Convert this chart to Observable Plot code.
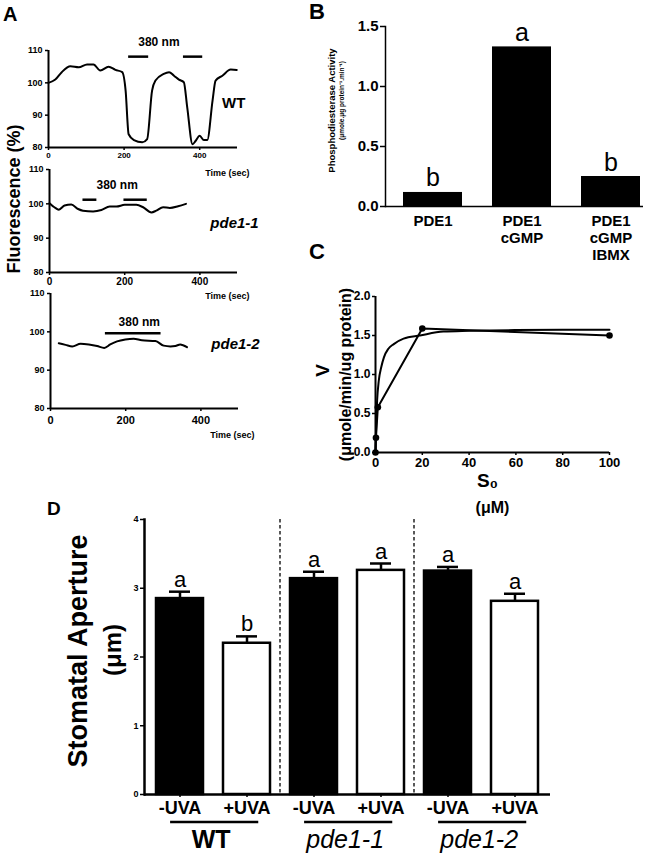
<!DOCTYPE html>
<html>
<head>
<meta charset="utf-8">
<script src="https://cdn.jsdelivr.net/npm/d3@7"></script>
<script src="https://cdn.jsdelivr.net/npm/@observablehq/plot@0.6"></script>
<style>
  html, body { margin: 0; padding: 0; background: #fff; }
  #root { position: relative; width: 660px; height: 863px; overflow: hidden; background: #fff;
          font-family: "Liberation Sans", Arial, Helvetica, sans-serif; color: #000; }
  .panel { position: absolute; }
  .letter { position: absolute; font-weight: bold; line-height: 1; }
</style>
</head>
<body>
<div id="root"></div>
<script>
// ---------------- DATA ----------------
// Panel A: fluorescence traces
const timeDomain = [0, 500];
const timeTicks = [0, 200, 400];
const fluorDomain = [80, 110];
const fluorTicks = [80, 90, 100, 110];
const lightLabel = "380 nm";
const timeLabel = "Time (sec)";

const wtTime  = [0, 18, 35, 58, 80, 102, 119, 137, 159, 177, 195, 204, 212, 226, 248, 261, 274, 283, 305, 319, 332, 345, 358, 367, 381, 389, 400, 411, 420, 434, 442, 460, 482, 498];
const wtFluor = [100, 101, 103.3, 105.1, 104.8, 105.7, 105.7, 103.8, 105, 104, 103.3, 97.6, 84.1, 82.3, 81.6, 82.6, 97.6, 100.7, 102.8, 103.3, 102.2, 101, 100.2, 92.4, 81, 82, 83.6, 82.3, 82.3, 94.5, 100.7, 102.2, 104.1, 104];
const wtLightStart = [212, 357];
const wtLightEnd   = [265, 408];
const wtLightLevel = 108.1;

const p1Time  = [0, 13, 25, 40, 58, 76, 89, 116, 138, 160, 178, 200, 231, 249, 271, 284, 302, 320, 342, 363];
const p1Fluor = [100.2, 99, 98.3, 99.5, 99.8, 98.5, 98, 97.8, 98.2, 99.2, 99.2, 99.7, 99.7, 99, 97.5, 98, 99, 98.8, 99.3, 100];
const p1LightStart = [89, 198];
const p1LightEnd   = [126, 260];
const p1LightLevel = 101.2;

const p2Time  = [22, 40, 58, 80, 102, 124, 143, 159, 177, 199, 221, 243, 279, 301, 319, 332, 345, 363];
const p2Fluor = [97, 96.6, 96.2, 96.9, 96.7, 96.3, 95.8, 96.7, 97.5, 98, 98.2, 97.8, 97.6, 96.4, 96.2, 96.3, 96.7, 96];
const p2LightStart = [146];
const p2LightEnd   = [294];
const p2LightLevel = 99.6;

// Panel B: phosphodiesterase activity
const bCategories = ["PDE1", "PDE1\ncGMP", "PDE1\ncGMP\nIBMX"];
const bActivity = [0.117, 1.33, 0.25];
const bLetters = ["b", "a", "b"];
const bTicks = [0, 0.5, 1.0, 1.5];

// Panel C: kinetics
const cS0 = [0, 0.2, 1, 20, 100];
const cV  = [0, 0.19, 0.58, 1.59, 1.50];
const cFitS0 = [0, 0.3, 0.7, 1.4, 2.5, 3.6, 5.5, 7.8, 12, 19, 29, 40, 60, 80, 100];
const cFitV  = [0, 0.38, 0.67, 0.92, 1.1, 1.22, 1.33, 1.39, 1.46, 1.5, 1.55, 1.56, 1.57, 1.575, 1.575];
const cXTicks = [0, 20, 40, 60, 80, 100];
const cYTicks = [0, 0.5, 1.0, 1.5, 2.0];

// Panel D: stomatal aperture
const dGroups = ["WT", "pde1-1", "pde1-2"];
const dTreatments = ["-UVA", "+UVA"];
const dMeans  = [2.85, 2.20, 3.14, 3.26, 3.25, 2.81];
const dErrors = [0.10, 0.10, 0.10, 0.10, 0.06, 0.11];
const dLetters = ["a", "b", "a", "a", "a", "a"];
const dTicks = [0, 1, 2, 3, 4];

// ---------------- HELPERS ----------------
const FONT = '"Liberation Sans", Arial, Helvetica, sans-serif';
const root = document.getElementById("root");
const baseStyle = {background: "transparent", overflow: "visible", fontFamily: FONT, color: "black", fontWeight: "bold"};

function mount(node, left, top) {
  const d = document.createElement("div");
  d.className = "panel";
  d.style.left = left + "px";
  d.style.top = top + "px";
  d.appendChild(node);
  root.appendChild(d);
  return node;
}
function letter(ch, left, top, size) {
  const d = document.createElement("div");
  d.className = "letter";
  d.textContent = ch;
  d.style.left = left + "px";
  d.style.top = top + "px";
  d.style.fontSize = size + "px";
  root.appendChild(d);
}
// rotated axis title, anchored at the frame's left-middle
function vLabel(str, dx, dy, size) {
  return Plot.text([str], {text: d => d, frameAnchor: "left", textAnchor: "middle", lineAnchor: "middle",
    rotate: -90, dx, dy, fontSize: size, fontWeight: "bold"});
}

// ---------------- PANEL A ----------------
function trace(o) {
  const series = o.time.map((t, i) => ({t, v: o.value[i]}));
  const light = o.lightStart.map((s, i) => ({s, e: o.lightEnd[i], v: o.lightLevel}));
  return Plot.plot({
    width: 250, height: o.height,
    marginLeft: o.ml, marginRight: o.mr, marginTop: o.mt, marginBottom: o.mb,
    x: {domain: timeDomain},
    y: {domain: fluorDomain},
    style: baseStyle,
    marks: [
      Plot.axisY({ticks: fluorTicks, tickFormat: d => d, tickSize: 3, tickPadding: 3, fontSize: 9, fontWeight: "bold", label: null, strokeWidth: 1.5}),
      Plot.axisX({ticks: timeTicks, tickFormat: d => d, tickSize: 3, tickPadding: o.xPad, fontSize: o.xFont, fontWeight: "bold", label: null, strokeWidth: 1.5}),
      Plot.ruleX([0], {strokeWidth: 2}),
      Plot.ruleY([80], {strokeWidth: 2}),
      Plot.line(series, {x: "t", y: "v", curve: "monotone-x", strokeWidth: 2}),
      Plot.ruleY(light, {x1: "s", x2: "e", y: "v", strokeWidth: 2.5}),
      Plot.text([o.note], {x: "t", y: "v", text: () => lightLabel, fontSize: 12, fontWeight: "bold"}),
      Plot.text([o.name], {x: "t", y: "v", text: "label", fontSize: 15, fontWeight: "bold", fontStyle: o.italic ? "italic" : "normal"}),
      Plot.text([timeLabel], {text: d => d, frameAnchor: "bottom-right", textAnchor: "end", lineAnchor: "middle", dx: o.timeDx, dy: o.timeDy, fontSize: 9, fontWeight: "bold"}),
      ...(o.extra || [])
    ]
  });
}

mount(trace({
  time: wtTime, value: wtFluor, lightStart: wtLightStart, lightEnd: wtLightEnd, lightLevel: wtLightLevel,
  note: {t: 292, v: 112.5}, name: {t: 490, v: 93.6, label: "WT"}, italic: false,
  height: 140, ml: 48, mr: 13, mt: 20, mb: 23, xFont: 8, xPad: 2, timeDx: 12, timeDy: 26
}), 0, 30);

mount(trace({
  time: p1Time, value: p1Fluor, lightStart: p1LightStart, lightEnd: p1LightEnd, lightLevel: p1LightLevel,
  note: {t: 180, v: 105.3}, name: {t: 492, v: 94.5, label: "pde1-1"}, italic: true,
  height: 150, ml: 49, mr: 13, mt: 19, mb: 28, xFont: 10, xPad: 2, timeDx: 12, timeDy: 24,
  extra: [ vLabel("Fluorescence (%)", -35, -22, 18) ]
}), 0, 150);

mount(trace({
  time: p2Time, value: p2Fluor, lightStart: p2LightStart, lightEnd: p2LightEnd, lightLevel: p2LightLevel,
  note: {t: 236, v: 102.4}, name: {t: 492, v: 96.7, label: "pde1-2"}, italic: true,
  height: 180, ml: 50, mr: 12, mt: 18, mb: 47, xFont: 11, xPad: 5, timeDx: 16, timeDy: 27
}), 0, 275);

// ---------------- PANEL B ----------------
const bData = bCategories.map((c, i) => ({c, v: bActivity[i], l: bLetters[i]}));
mount(Plot.plot({
  width: 360, height: 270,
  marginLeft: 85, marginRight: 17, marginTop: 26, marginBottom: 64,
  x: {type: "band", domain: bCategories, paddingInner: 0.333, paddingOuter: 0.1, align: 0.89},
  y: {domain: [0, 1.5]},
  style: baseStyle,
  marks: [
    Plot.barY(bData, {x: "c", y: "v", fill: "black"}),
    Plot.axisY({ticks: bTicks, tickFormat: d3.format(".1f"), tickSize: 5, tickPadding: 2, fontSize: 15, fontWeight: "bold", label: null, strokeWidth: 1.5}),
    Plot.axisX({tickSize: 0, tickPadding: 7, fontSize: 15, fontWeight: "bold", label: null, lineHeight: 1.15}),
    Plot.frame({anchor: "left", strokeWidth: 1.5}),
    Plot.ruleY([0], {strokeWidth: 1.5}),
    Plot.text(bData, {x: "c", y: "v", text: "l", dy: -6, lineAnchor: "bottom", fontSize: 25, fontWeight: "normal"}),
    vLabel("Phosphodiesterase Activity", -54, -6, 9.5),
    vLabel("(μmole.μg protein⁻¹.min⁻¹)", -44, -16, 6.5)
  ]
}), 300, 0);

// ---------------- PANEL C ----------------
const cPoints = cS0.map((s, i) => ({s, v: cV[i]}));
const cFit = cFitS0.map((s, i) => ({s, v: cFitV[i]}));
mount(Plot.plot({
  width: 370, height: 240,
  marginLeft: 85, marginRight: 51, marginTop: 16, marginBottom: 68,
  x: {domain: [0, 100]},
  y: {domain: [0, 2]},
  style: baseStyle,
  marks: [
    Plot.axisY({ticks: cYTicks, tickFormat: d3.format(".1f"), tickSize: 3, tickPadding: 2, fontSize: 12, fontWeight: "bold", label: null, strokeWidth: 1.5}),
    Plot.axisX({ticks: cXTicks, tickFormat: d => d, tickSize: 3, tickPadding: 2, fontSize: 13, fontWeight: "bold", label: null, strokeWidth: 1.5}),
    Plot.ruleX([0], {strokeWidth: 2}),
    Plot.ruleY([0], {strokeWidth: 2}),
    Plot.line(cFit, {x: "s", y: "v", curve: "monotone-x", strokeWidth: 2}),
    Plot.line(cPoints, {x: "s", y: "v", strokeWidth: 2}),
    Plot.dot(cPoints, {x: "s", y: "v", r: 3.3, fill: "black"}),
    vLabel("V", -53, -4, 19),
    vLabel("(μmole/min/ug protein)", -30, 0, 16),
    Plot.text(["S₀"], {text: d => d, frameAnchor: "bottom", textAnchor: "middle", lineAnchor: "middle", dx: -5, dy: 28, fontSize: 19, fontWeight: "bold"}),
    Plot.text(["(μM)"], {text: d => d, frameAnchor: "bottom", textAnchor: "middle", lineAnchor: "middle", dx: 0, dy: 55, fontSize: 16, fontWeight: "bold"})
  ]
}), 290, 280);

// ---------------- PANEL D ----------------
const dKey = (g, t) => g + "|" + t;
const dData = [];
dGroups.forEach((g, gi) => dTreatments.forEach((t, ti) => {
  const i = gi * 2 + ti;
  dData.push({key: dKey(g, t), g, t, m: dMeans[i], hi: dMeans[i] + dErrors[i], l: dLetters[i]});
}));
const dKeys = dData.map(d => d.key);
const figD = mount(Plot.plot({
  width: 560, height: 373,
  marginLeft: 144, marginRight: 10, marginTop: 29, marginBottom: 69,
  x: {type: "band", domain: dKeys, paddingInner: 0.3, paddingOuter: 0.14},
  y: {domain: [0, 4]},
  style: baseStyle,
  marks: [
    Plot.ruleX(dData, {x: "key", y1: "m", y2: "hi", strokeWidth: 2.5}),
    Plot.tickY(dData, {x: "key", y: "hi", strokeWidth: 2.5, insetLeft: 13, insetRight: 13}),
    Plot.barY(dData.filter(d => d.t === dTreatments[0]), {x: "key", y: "m", fill: "black", stroke: "black", strokeWidth: 2.5}),
    Plot.barY(dData.filter(d => d.t === dTreatments[1]), {x: "key", y: "m", fill: "white", stroke: "black", strokeWidth: 2.5}),
    Plot.axisY({ticks: dTicks, tickFormat: d => d, tickSize: 4, tickPadding: 2, fontSize: 9, fontWeight: "bold", label: null, strokeWidth: 1.5}),
    Plot.axisX({tickSize: 3, tickPadding: 4, fontSize: 18, fontWeight: "bold", label: null, strokeWidth: 1.5, tickFormat: d => d.split("|")[1]}),
    Plot.frame({anchor: "left", strokeWidth: 2.5}),
    Plot.ruleY([0], {strokeWidth: 2.5}),
    Plot.text(dData, {x: "key", y: "hi", text: "l", dy: -5, lineAnchor: "bottom", fontSize: 22, fontWeight: "normal"}),
    vLabel("Stomatal Aperture", -66, -6, 27),
    vLabel("(μm)", -31, -7, 24)
  ]
}), 0, 490);

// group separators, underlines and group names, positioned with Plot's own scales
(function () {
  const xs = figD.scale("x"), ys = figD.scale("y");
  const g = d3.select(figD).append("g");
  const y0 = ys.apply(0), yTop = ys.apply(4);
  const gap = xs.step - xs.bandwidth;
  dGroups.slice(1).forEach(name => {
    const xx = xs.apply(dKey(name, dTreatments[0])) - gap / 2;
    g.append("line").attr("x1", xx).attr("x2", xx).attr("y1", yTop).attr("y2", y0)
      .attr("stroke", "black").attr("stroke-width", 1.3).attr("stroke-dasharray", "3.5,2.5");
  });
  dGroups.forEach((name, gi) => {
    const a = xs.apply(dKey(name, dTreatments[0]));
    const b = xs.apply(dKey(name, dTreatments[1])) + xs.bandwidth;
    const x1 = a + 0.3 * xs.bandwidth, x2 = b - 0.25 * xs.bandwidth;
    g.append("line").attr("x1", x1).attr("x2", x2).attr("y1", y0 + 28).attr("y2", y0 + 28)
      .attr("stroke", "black").attr("stroke-width", 2.5);
    g.append("text").attr("x", (x1 + x2) / 2 - 3).attr("y", y0 + 54)
      .attr("text-anchor", "middle").attr("font-size", 25)
      .attr("font-weight", gi === 0 ? "bold" : "normal")
      .attr("font-style", gi === 0 ? "normal" : "italic")
      .attr("font-family", FONT)
      .text(name);
  });
})();

// panel letters
letter("A", 3, 4, 20);
letter("B", 309, 1, 22);
letter("C", 309, 241, 22);
letter("D", 47, 499, 19);
</script>
</body>
</html>
